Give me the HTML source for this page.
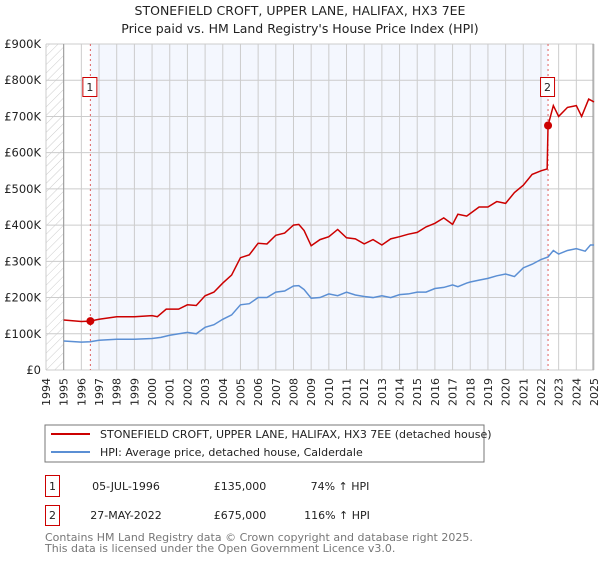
<!DOCTYPE html>
<html><head><meta charset="utf-8"><style>
body{margin:0;background:#fff;font-family:"DejaVu Sans","Liberation Sans",sans-serif;}
svg text{font-family:"DejaVu Sans","Liberation Sans",sans-serif;}
</style></head><body>
<svg id="c" width="600" height="560" xmlns="http://www.w3.org/2000/svg">
<defs><pattern id="h" width="6" height="6" patternUnits="userSpaceOnUse" patternTransform="rotate(45)"><line x1="0" y1="0" x2="0" y2="6" stroke="#ccc" stroke-width="1"/></pattern></defs>
<text x="300" y="15" text-anchor="middle" font-size="12.5" fill="#222">STONEFIELD CROFT, UPPER LANE, HALIFAX, HX3 7EE</text>
<text x="300" y="33" text-anchor="middle" font-size="12.5" fill="#222">Price paid vs. HM Land Registry's House Price Index (HPI)</text>
<g id="plot"></g>
<rect x="45" y="425" width="439" height="37" fill="#fff" stroke="#777"/>
<line x1="51" y1="434" x2="90" y2="434" stroke="#cc0000" stroke-width="2"/>
<text x="100" y="438" font-size="11" fill="#222">STONEFIELD CROFT, UPPER LANE, HALIFAX, HX3 7EE (detached house)</text>
<line x1="51" y1="452" x2="90" y2="452" stroke="#5b8fd4" stroke-width="2"/>
<text x="100" y="456" font-size="11" fill="#222">HPI: Average price, detached house, Calderdale</text>
<g>
<rect x="45.5" y="475.5" width="14" height="21" fill="#fff" stroke="#cc0000"/>
<text x="52.5" y="490" text-anchor="middle" font-size="11" fill="#222">1</text>
<text x="126" y="490" text-anchor="middle" font-size="11" fill="#222">05-JUL-1996</text>
<text x="240" y="490" text-anchor="middle" font-size="11" fill="#222">£135,000</text>
<text x="340" y="490" text-anchor="middle" font-size="11" fill="#222">74% ↑ HPI</text>
</g>
<g>
<rect x="45.5" y="505.5" width="14" height="20" fill="#fff" stroke="#cc0000"/>
<text x="52.5" y="519" text-anchor="middle" font-size="11" fill="#222">2</text>
<text x="126" y="519" text-anchor="middle" font-size="11" fill="#222">27-MAY-2022</text>
<text x="240" y="519" text-anchor="middle" font-size="11" fill="#222">£675,000</text>
<text x="337" y="519" text-anchor="middle" font-size="11" fill="#222">116% ↑ HPI</text>
</g>
<text x="45" y="541" font-size="11" fill="#777">Contains HM Land Registry data © Crown copyright and database right 2025.</text>
<text x="45" y="552" font-size="11" fill="#777">This data is licensed under the Open Government Licence v3.0.</text>
</svg>
<script>
const years=[1994,1995,1996,1997,1998,1999,2000,2001,2002,2003,2004,2005,2006,2007,2008,2009,2010,2011,2012,2013,2014,2015,2016,2017,2018,2019,2020,2021,2022,2023,2024,2025];
const yTicks=[0,100,200,300,400,500,600,700,800,900];
const yTickLabels=["£0","£100K","£200K","£300K","£400K","£500K","£600K","£700K","£800K","£900K"];
const hpiT=[1995,1996,1996.5,1997,1998,1999,2000,2000.5,2001,2002,2002.5,2003,2003.5,2004,2004.5,2005,2005.5,2006,2006.5,2007,2007.5,2008,2008.3,2008.6,2009,2009.5,2010,2010.5,2011,2011.5,2012,2012.5,2013,2013.5,2014,2014.5,2015,2015.5,2016,2016.5,2017,2017.3,2017.8,2018,2018.5,2019,2019.5,2020,2020.5,2021,2021.5,2022,2022.4,2022.7,2023,2023.5,2024,2024.5,2024.8,2025];
const hpiV=[80,77,78,82,85,85,87,90,96,104,100,118,125,140,152,180,183,200,200,215,218,232,233,222,198,200,210,205,215,207,203,200,205,200,208,210,215,215,225,228,235,230,240,243,248,253,260,265,258,282,292,305,312,330,320,330,335,328,345,345];
const priceT=[1995,1996,1996.5,1997,1998,1999,2000,2000.3,2000.8,2001.5,2002,2002.5,2003,2003.5,2004,2004.5,2005,2005.5,2006,2006.5,2007,2007.5,2008,2008.3,2008.6,2009,2009.5,2010,2010.5,2011,2011.5,2012,2012.5,2013,2013.5,2014,2014.5,2015,2015.5,2016,2016.5,2017,2017.3,2017.8,2018,2018.5,2019,2019.5,2020,2020.5,2021,2021.5,2022,2022.35,2022.4,2022.7,2023,2023.5,2024,2024.3,2024.7,2025];
const priceV=[138,134,135,140,147,147,150,147,168,168,180,178,205,215,240,262,310,318,350,348,372,378,400,402,385,343,360,368,388,365,362,348,360,345,362,368,375,380,395,405,420,402,430,425,432,450,450,465,460,490,510,540,550,555,675,730,700,725,730,700,748,740];
const saleT=[1996.51,2022.4];
const saleV=[135,675];
const saleLabels=["1","2"];
const X0=46,X1=594,Y0=370,Y1=44;
const xs=t=>X0+(t-1994)/(2025-1994)*(X1-X0);
const ys=v=>Y0-v/900*(Y0-Y1);
const NS="http://www.w3.org/2000/svg";
const g=document.getElementById('plot');
function mk(tag,attrs,parent){const e=document.createElementNS(NS,tag);for(const k in attrs)e.setAttribute(k,attrs[k]);(parent||g).appendChild(e);return e;}
let e;
e=mk('rect',{x:X0,y:Y1,width:X1-X0,height:Y0-Y1,fill:'#fff'});


e=mk('rect',{x:X0,y:Y1,width:xs(1995)-X0,height:Y0-Y1,fill:'url(#h)'});


e=mk('rect',{x:xs(saleT[0]),y:Y1,width:xs(saleT[1])-xs(saleT[0]),height:Y0-Y1,fill:'#f4f7fe'});


years.forEach(y=>{
 e=mk('line',{x1:xs(y),x2:xs(y),y1:Y1,y2:Y0,stroke:'#ccc','stroke-width':1});
 
 
 e=mk('text',{x:0,y:0,transform:`translate(${xs(y)+4},${Y0+8}) rotate(-90)`,'text-anchor':'end','font-size':11,fill:'#222'});
 e.textContent=y;
 
 
});
yTicks.forEach((v,i)=>{
 e=mk('line',{x1:X0,x2:X1,y1:ys(v),y2:ys(v),stroke:'#ccc','stroke-width':1});
 
 
 e=mk('text',{x:X0-5,y:ys(v)+4,'text-anchor':'end','font-size':11.5,fill:'#222'});
 e.textContent=yTickLabels[i];
 
 
});
e=mk('line',{x1:xs(1995),x2:xs(1995),y1:Y1,y2:Y0,stroke:'#999'});


e=mk('line',{x1:X1-1,x2:X1-1,y1:Y1,y2:Y0,stroke:'#999'});


saleT.forEach((t,i)=>{
 e=mk('line',{x1:xs(t),x2:xs(t),y1:Y1,y2:Y0,stroke:'#e06060','stroke-dasharray':'2,3'});
 
 
 e=mk('rect',{x:xs(t)-7.5,y:77.5,width:14,height:19,fill:'#fff',stroke:'#cc0000'});
 
 
 e=mk('text',{x:xs(t)-0.5,y:91,'text-anchor':'middle','font-size':11,fill:'#222'});
 e.textContent=saleLabels[i];
 
 
});
e=mk('polyline',{points:hpiT.map((t,i)=>xs(t)+','+ys(hpiV[i])).join(' '),fill:'none',stroke:'#5b8fd4','stroke-width':1.5});


e=mk('polyline',{points:priceT.map((t,i)=>xs(t)+','+ys(priceV[i])).join(' '),fill:'none',stroke:'#cc0000','stroke-width':1.5});


saleT.forEach((t,i)=>{
 e=mk('circle',{cx:xs(t),cy:ys(saleV[i]),r:4,fill:'#cc0000'});
 
 
});
</script>
</body></html>
